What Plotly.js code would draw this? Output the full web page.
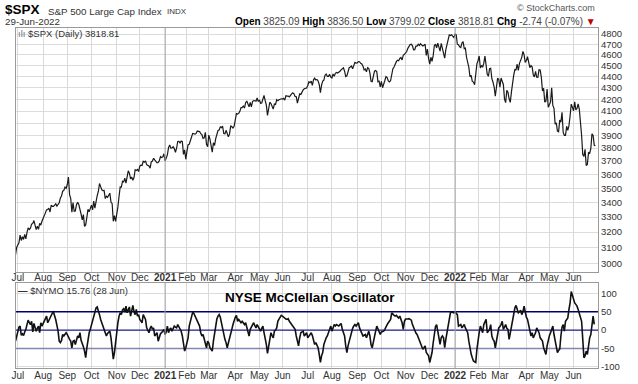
<!DOCTYPE html>
<html><head><meta charset="utf-8">
<script src="https://cdn.plot.ly/plotly-3.0.1.min.js"></script>
<style>html,body{margin:0;padding:0;background:#fff}#chart{width:638px;height:384px}</style>
</head><body><div id="chart"></div>
<script>
// ---------------- DATA ----------------
const startDate = '2020-06-29';
const endDate = '2022-06-29';
const holidays = ['2020-07-03','2020-09-07','2020-11-26','2020-12-25','2021-01-01','2021-01-18','2021-02-15',
  '2021-04-02','2021-05-31','2021-07-05','2021-09-06','2021-11-25','2021-12-24','2022-01-17','2022-02-21',
  '2022-04-15','2022-05-30','2022-06-20'];

// $SPX daily close, one line per month (Jun 2020 .. Jun 2022)
const spxClose = [
 3053,3100,
 3116,3130,3180,3145,3170,3152,3185,3155,3198,3227,3216,3225,3252,3257,3276,3236,3216,3239,3218,3258,3246,3271,
 3295,3307,3328,3349,3351,3360,3334,3380,3373,3373,3382,3390,3375,3386,3397,3431,3444,3479,3485,3508,3500,
 3527,3581,3455,3427,3332,3399,3339,3341,3384,3401,3385,3357,3319,3281,3316,3237,3247,3298,3352,3335,3363,
 3381,3348,3409,3361,3419,3447,3477,3534,3512,3489,3483,3484,3427,3443,3436,3453,3465,3401,3391,3271,3310,3270,
 3310,3369,3443,3510,3509,3551,3546,3573,3537,3585,3627,3610,3568,3582,3558,3578,3635,3630,3638,3622,
 3662,3669,3667,3699,3692,3702,3673,3668,3663,3647,3695,3701,3722,3709,3695,3687,3690,3703,3735,3727,3732,3756,
 3701,3727,3748,3804,3825,3800,3801,3810,3796,3768,3799,3852,3853,3841,3855,3850,3751,3787,3714,
 3774,3826,3830,3872,3887,3916,3911,3910,3916,3935,3933,3931,3914,3907,3877,3881,3925,3829,3811,
 3902,3870,3820,3768,3842,3821,3875,3899,3939,3943,3969,3963,3974,3915,3913,3941,3911,3889,3910,3975,3971,3959,3973,
 4020,4078,4074,4080,4097,4129,4128,4142,4125,4170,4185,4163,4135,4173,4135,4180,4188,4187,4183,4211,4181,
 4193,4165,4168,4202,4233,4188,4152,4063,4113,4174,4163,4128,4116,4159,4156,4197,4188,4196,4201,4204,
 4202,4208,4193,4230,4227,4227,4220,4239,4247,4255,4247,4224,4222,4166,4225,4246,4242,4266,4281,4291,4292,4298,
 4320,4352,4344,4358,4321,4370,4385,4369,4374,4360,4327,4258,4323,4359,4367,4412,4422,4401,4401,4419,4395,
 4387,4423,4403,4429,4437,4432,4437,4448,4461,4468,4480,4448,4400,4406,4442,4480,4486,4496,4470,4509,4529,4523,
 4524,4537,4535,4520,4514,4493,4459,4469,4443,4481,4474,4433,4358,4354,4396,4449,4455,4443,4353,4359,4308,
 4357,4300,4346,4364,4400,4391,4361,4351,4364,4438,4471,4486,4520,4536,4550,4545,4566,4575,4552,4596,4605,
 4614,4631,4661,4680,4698,4702,4685,4647,4649,4683,4683,4701,4689,4705,4698,4683,4691,4701,4595,4655,4567,
 4513,4577,4538,4592,4687,4701,4667,4712,4669,4634,4710,4669,4621,4568,4649,4697,4726,4791,4786,4793,4779,4766,
 4797,4794,4701,4696,4677,4670,4713,4726,4659,4663,4577,4533,4483,4398,4410,4356,4350,4327,4432,4516,
 4547,4589,4477,4501,4484,4522,4587,4504,4419,4402,4471,4475,4380,4349,4305,4226,4289,4385,4374,
 4306,4387,4363,4329,4201,4171,4278,4260,4204,4173,4262,4358,4412,4463,4461,4512,4456,4520,4543,4576,4632,4602,4530,
 4546,4583,4525,4481,4500,4488,4413,4397,4447,4393,4392,4462,4459,4394,4272,4296,4175,4184,4288,4132,
 4155,4175,4300,4147,4123,3991,4001,3935,3930,4024,4008,4089,3924,3901,3901,3974,3941,3979,4058,4158,4132,
 4101,4177,4109,4121,4161,4116,4018,3901,3750,3735,3790,3667,3675,3765,3760,3796,3912,3900,3822,3819
];

// $NYMO daily values, one line per month (last day not yet published)
const nymo = [
 -30,-18,
 -5,8,11,-14,-10,-15,-5,2,15,27,20,15,24,-5,18,10,-3,5,11,-7,20,11,
 18,29,33,38,20,27,35,42,46,49,40,28,13,-3,-30,-34,-28,-12,-16,-10,-7,
 -12,-20,-25,-30,-48,-30,-28,-39,-25,-16,-21,-7,-28,-35,-45,-57,-75,-48,-21,-8,2,
 15,22,38,49,60,63,55,42,29,20,11,0,-10,-16,-9,-7,-3,-21,-52,-79,-61,-30,
 -3,20,38,47,42,55,58,49,65,47,55,63,38,56,67,50,42,56,38,42,
 29,25,20,42,35,29,6,0,-7,5,11,2,6,-16,-10,-7,-30,-16,-10,-7,-2,2,
 -12,-5,11,-7,2,6,-3,5,11,8,6,15,8,2,-3,-16,-39,-57,-48,
 -30,-21,11,25,38,49,45,38,30,24,15,11,-7,-16,-12,-25,-30,-48,-30,
 -35,-48,-52,-57,-30,-5,15,30,38,42,35,20,6,-15,-25,-34,-48,-35,-20,-7,2,15,29,
 35,40,24,29,25,20,24,18,15,20,5,-3,-16,2,8,15,20,12,6,15,8,
 2,-3,5,11,-7,-20,-39,-63,-45,-34,-7,-15,-21,-3,0,6,24,30,35,40,
 38,35,33,30,29,31,24,20,15,11,5,2,-16,-35,-43,-21,-7,-5,-3,-16,-10,-7,
 -21,-15,-12,-7,-15,-25,-39,-34,-40,-48,-66,-88,-70,-61,-39,-28,-21,-16,-7,5,11,
 -3,8,15,11,15,13,11,15,18,2,-10,-16,-43,-61,-43,-30,-21,-3,5,11,15,11,
 15,20,6,0,-7,-16,-14,-12,-21,-10,-3,-16,-40,-48,-30,-12,-3,11,2,-5,-12,
 -5,-4,-3,2,10,15,20,25,29,47,42,40,38,40,36,33,38,28,20,2,24,
 30,29,30,31,29,27,15,6,-3,-8,-12,-21,-28,-35,-48,-52,-48,-43,-61,-66,-70,
 -88,-75,-61,-35,-5,10,15,0,-20,-39,-20,-16,-21,-48,-25,-7,15,35,47,49,48,47,
 49,45,42,11,13,15,6,10,15,6,-3,-7,-30,-52,-65,-75,-84,-86,-88,-52,
 -20,-7,11,2,-7,15,24,29,-7,-3,2,15,-16,-25,-30,-48,-30,-21,6,
 10,15,24,2,8,15,5,2,-25,-7,10,29,47,60,67,58,47,50,54,42,50,65,47,
 35,29,11,-5,-16,-7,-21,-14,-7,6,0,-7,-21,-25,-30,-48,-60,-66,-43,-25,
 -15,-7,5,11,-12,-30,-43,-61,-55,-52,-16,8,15,-3,24,28,33,56,74,105,92,
 87,74,70,65,56,47,35,24,-25,-75,-70,-57,-66,-40,-21,-12,20,38,15.76,null
];

const monthLabels = ['Jul','Aug','Sep','Oct','Nov','Dec','2021','Feb','Mar','Apr','May','Jun',
                     'Jul','Aug','Sep','Oct','Nov','Dec','2022','Feb','Mar','Apr','May','Jun'];
const priceTicks = [3000,3100,3200,3300,3400,3500,3600,3700,3800,3900,4000,4100,4200,4300,4400,4500,4600,4700,4800];
const nymoTicks = [100,50,0,-50,-100];
const nymoLevels = [50,0,-50];

const quoteDate = '29-Jun-2022';
const qOpen = '3825.09', qHigh = '3836.50', qLow = '3799.02', qClose = '3818.81';
const qChg = '-2.74', qChgPct = '-0.07';
const nymoLast = '15.76', nymoLastDate = '28 Jun';

// ---------------- BUILD ----------------
const dates = [];
(function(){
  const end = new Date(endDate + 'T00:00:00Z');
  for (let d = new Date(startDate + 'T00:00:00Z'); d <= end; d.setUTCDate(d.getUTCDate() + 1)) {
    const wd = d.getUTCDay();
    if (wd === 0 || wd === 6) continue;
    const s = d.toISOString().slice(0, 10);
    if (holidays.includes(s)) continue;
    dates.push(s);
  }
})();

const monthStarts = [];
for (let i = 1; i < dates.length; i++) {
  if (dates[i].slice(5, 7) !== dates[i - 1].slice(5, 7)) monthStarts.push(dates[i]);
}
const tickText = monthLabels.map(l => /^\d{4}$/.test(l) ? '<b>' + l + '</b>' : l);
const yearStarts = monthStarts.filter((d, i) => /^\d{4}$/.test(monthLabels[i]));

const FONT = 'Liberation Sans, Arial, sans-serif';
const W = 638, H = 384;
const px = v => v / W, py = v => 1 - v / H;

const xRange = ['2020-06-29', '2022-07-01 06:00'];
const rb = [{bounds: ['sat', 'mon']}, {values: holidays}];

const xCommon = {
  type: 'date', range: xRange, rangebreaks: rb,
  tickmode: 'array', tickvals: monthStarts, ticktext: tickText, tickangle: 0,
  showgrid: true, gridcolor: '#d9d9d9', gridwidth: 1,
  ticks: '', showline: true, linecolor: '#9a9a9a', mirror: true, zeroline: false,
  tickfont: {family: FONT, size: 10, color: '#333'}, fixedrange: true
};

const levelColors = {'50': '#000066', '0': '#23238f', '-50': '#8585b8'};
const traces = [];
nymoLevels.forEach(v => {
  traces.push({x: [dates[0], dates[dates.length - 1], xRange[1]], y: [v, v, v], type: 'scatter', mode: 'lines',
    xaxis: 'x2', yaxis: 'y2', line: {color: levelColors[String(v)], width: v === 50 ? 1.5 : 1.3}, hoverinfo: 'skip'});
});
traces.push({x: dates, y: spxClose, type: 'scatter', mode: 'lines', xaxis: 'x', yaxis: 'y',
   line: {color: '#1a1a1a', width: 1.2}, hoverinfo: 'skip'});
traces.push({x: dates, y: nymo, type: 'scatter', mode: 'lines', xaxis: 'x2', yaxis: 'y2',
   line: {color: '#111', width: 1.6}, hoverinfo: 'skip'});

const shapes = [];
yearStarts.forEach(d => {
  ['y domain', 'y2 domain'].forEach(yr => {
    shapes.push({type: 'line', xref: 'x', yref: yr, x0: d, x1: d, y0: 0, y1: 1,
      line: {color: '#a6a6a6', width: 1}, layer: 'above'});
  });
});

const ann = (x, y, text, opt) => Object.assign({xref: 'paper', yref: 'paper', x: px(x), y: py(y),
  text: text, showarrow: false, xanchor: 'left', yanchor: 'middle',
  font: {family: FONT, size: 10, color: '#222'}}, opt || {});

const grey = s => '<span style="color:#444">' + s + '</span>';
const annotations = [
  ann(3, 10, '<b>$SPX</b>', {font: {family: FONT, size: 13.5, color: '#000'}}),
  ann(46, 11, 'S&amp;P 500 Large Cap Index', {font: {family: FONT, size: 9.8, color: '#333'}}),
  ann(165, 11, 'INDX', {font: {family: FONT, size: 8, color: '#333'}}),
  ann(3, 21, quoteDate, {font: {family: FONT, size: 9.8, color: '#333'}}),
  ann(598, 21, '<b>Open</b> ' + grey(qOpen) + ' <b>High</b> ' + grey(qHigh) + ' <b>Low</b> ' + grey(qLow) +
     ' <b>Close</b> ' + grey(qClose) + ' <b>Chg</b> ' + grey(qChg + ' (' + qChgPct + '%)') +
     ' <span style="color:#c00000">▼</span>',
     {xanchor: 'right', font: {family: FONT, size: 10, color: '#000'}}),
  ann(597, 8, '© StockCharts.com', {xanchor: 'right', font: {family: FONT, size: 9, color: '#555'}}),
  ann(16, 33, '<span style="color:#777">ılı</span> $SPX (Daily) ' + qClose, {font: {family: FONT, size: 9.5, color: '#333'}}),
  ann(16, 290, '<b>—</b> $NYMO ' + nymoLast + ' (' + nymoLastDate + ')', {font: {family: FONT, size: 9.5, color: '#333'}}),
  ann(310, 297, '<b>NYSE McClellan Oscillator</b>', {xanchor: 'center', font: {family: FONT, size: 13.5, color: '#000'}})
];

const layout = {
  width: W, height: H, margin: {l: 0, r: 0, t: 0, b: 0},
  paper_bgcolor: '#fff', plot_bgcolor: '#fff', showlegend: false,
  xaxis: Object.assign({}, xCommon, {domain: [px(15.5), px(598)], anchor: 'y', ticklabelstandoff: -4}),
  xaxis2: Object.assign({}, xCommon, {domain: [px(15.5), px(598)], anchor: 'y2', matches: 'x', ticklabelstandoff: -2}),
  yaxis: {domain: [py(272), py(28)], type: 'log', range: [3.4696, 3.6866], side: 'right',
    tickmode: 'array', tickvals: priceTicks, ticktext: priceTicks.map(String),
    showgrid: true, gridcolor: '#dcdcdc', ticks: '', showline: true, linecolor: '#9a9a9a', mirror: true,
    zeroline: false, tickfont: {family: FONT, size: 9.5, color: '#333'}, fixedrange: true},
  yaxis2: {domain: [py(368), py(283)], range: [-103, 128], side: 'right',
    tickmode: 'array', tickvals: nymoTicks, ticktext: nymoTicks.map(String),
    showgrid: true, gridcolor: '#dcdcdc', ticks: '', showline: true, linecolor: '#9a9a9a', mirror: true,
    zeroline: false, tickfont: {family: FONT, size: 9.5, color: '#333'}, fixedrange: true},
  shapes: shapes,
  annotations: annotations
};

Plotly.newPlot('chart', traces, layout, {staticPlot: true, displayModeBar: false});
</script>
</body></html>
